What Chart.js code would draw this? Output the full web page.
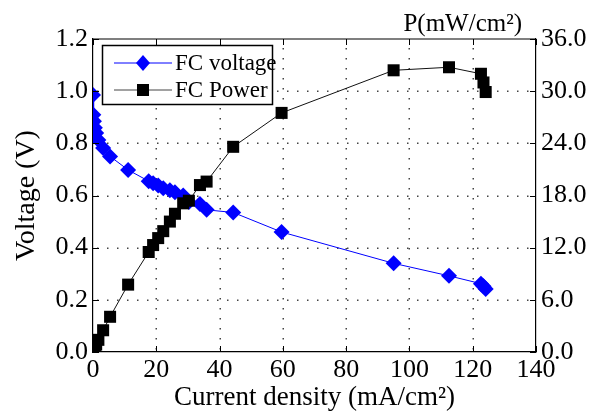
<!DOCTYPE html>
<html><head><meta charset="utf-8">
<script src="https://cdn.jsdelivr.net/npm/chart.js@4.4.1/dist/chart.umd.min.js"></script>
<style>html,body{margin:0;padding:0;background:#fff}#wrap{width:601px;height:417px}</style>
</head><body><div id="wrap"><canvas id="c" width="601" height="417"></canvas></div>
<script>
// ---- data ----
const current = [0, 0.1, 0.3, 0.6, 1.0, 1.7, 3.2, 5.4, 11.1, 17.6, 19.0, 20.6, 22.2, 24.3, 25.9, 28.5, 30.3, 33.8, 35.9, 44.3, 59.6, 95.0, 112.5, 122.6, 123.4, 124.1];
const voltage = [0.985, 0.91, 0.885, 0.86, 0.84, 0.813, 0.782, 0.75, 0.698, 0.655, 0.647, 0.638, 0.628, 0.62, 0.612, 0.60, 0.575, 0.567, 0.545, 0.535, 0.46, 0.34, 0.292, 0.262, 0.252, 0.242];
const power = [0, 0.1, 0.3, 0.5, 0.85, 1.4, 2.5, 4.05, 7.75, 11.5, 12.3, 13.1, 13.9, 15.0, 15.9, 17.1, 17.4, 19.2, 19.6, 23.6, 27.5, 32.4, 32.75, 32.0, 31.0, 29.9];
const xTicks = [0, 20, 40, 60, 80, 100, 120, 140];
const vTicks = [0, 0.2, 0.4, 0.6, 0.8, 1.0, 1.2];
const pTicks = [0, 6, 12, 18, 24, 30, 36];
const seriesNames = ['FC voltage', 'FC Power'];
const xTitle = 'Current density (mA/cm\u00B2)';
const yTitle = 'Voltage (V)';
const y2Title = 'P(mW/cm\u00B2)';

const FONT = '"Liberation Serif", "DejaVu Serif", serif';
const BLUE = '#0000ff';
const DARK = '#111';

const vData = current.map((x, i) => ({x: x, y: voltage[i]}));
const pData = current.map((x, i) => ({x: x, y: power[i]}));

function setTicks(arr) { return s => { s.ticks = arr.map(v => ({value: v})); }; }

const gridPlugin = {
  id: 'dotgrid',
  beforeDatasetsDraw(chart) {
    const ctx = chart.ctx, a = chart.chartArea;
    const xs = chart.scales.x, ys = chart.scales.y;
    ctx.save();
    ctx.fillStyle = '#444';
    // dotted grid drawn as small squares every 10px
    xTicks.slice(1, -1).forEach(v => {
      const px = Math.round(xs.getPixelForValue(v));
      for (let y = a.bottom - 4; y > a.top; y -= 10) ctx.fillRect(px - 0.5, Math.round(y), 1.5, 1.5);
    });
    vTicks.slice(1, -1).forEach(v => {
      const py = Math.round(ys.getPixelForValue(v));
      for (let x = a.left + 4; x < a.right; x += 10) ctx.fillRect(Math.round(x), py - 0.5, 1.5, 1.5);
    });
    ctx.restore();
  }
};

const framePlugin = {
  id: 'frame',
  afterDraw(chart) {
    const ctx = chart.ctx, a = chart.chartArea;
    const xs = chart.scales.x, ys = chart.scales.y;
    ctx.save();
    ctx.strokeStyle = '#000';
    ctx.lineWidth = 1.2;
    ctx.beginPath(); ctx.moveTo(a.left, a.top); ctx.lineTo(a.right, a.top); ctx.stroke();
    ctx.lineWidth = 1;
    ctx.beginPath();
    xTicks.forEach(v => {
      const px = Math.round(xs.getPixelForValue(v)) + 0.5;
      ctx.moveTo(px, a.bottom); ctx.lineTo(px, a.bottom - 6);
      ctx.moveTo(px, a.top); ctx.lineTo(px, a.top + 6);
    });
    vTicks.forEach(v => {
      const py = Math.round(ys.getPixelForValue(v)) + 0.5;
      ctx.moveTo(a.left, py); ctx.lineTo(a.left + 6, py);
      ctx.moveTo(a.right, py); ctx.lineTo(a.right - 6, py);
    });
    ctx.stroke();
    // right axis title
    ctx.fillStyle = '#000';
    ctx.font = '25px ' + FONT;
    ctx.textAlign = 'right';
    ctx.textBaseline = 'alphabetic';
    ctx.fillText(y2Title, 522, 31);
    // legend
    const lx = 102.5, ly = 45.5, lw = 170, lh = 59;
    ctx.fillStyle = '#fff';
    ctx.fillRect(lx, ly, lw, lh);
    ctx.lineWidth = 1.5;
    ctx.strokeStyle = '#000';
    ctx.strokeRect(lx, ly, lw, lh);
    const rows = [63, 90];
    ctx.lineWidth = 1;
    ctx.strokeStyle = BLUE;
    ctx.beginPath(); ctx.moveTo(114, rows[0]); ctx.lineTo(172, rows[0]); ctx.stroke();
    ctx.fillStyle = BLUE;
    ctx.beginPath();
    ctx.moveTo(143, rows[0] - 8); ctx.lineTo(150, rows[0]); ctx.lineTo(143, rows[0] + 8); ctx.lineTo(136, rows[0]);
    ctx.closePath(); ctx.fill();
    ctx.strokeStyle = '#444';
    ctx.beginPath(); ctx.moveTo(114, rows[1]); ctx.lineTo(172, rows[1]); ctx.stroke();
    ctx.fillStyle = '#000';
    ctx.fillRect(137, rows[1] - 6, 12, 12);
    ctx.font = '23px ' + FONT;
    ctx.textAlign = 'left';
    ctx.textBaseline = 'middle';
    ctx.fillText(seriesNames[0], 175, rows[0] + 1);
    ctx.fillText(seriesNames[1], 175, rows[1] + 1);
    ctx.restore();
  }
};

new Chart(document.getElementById('c'), {
  type: 'line',
  data: {
    datasets: [
      {label: seriesNames[0], data: vData, yAxisID: 'y', order: 1,
       borderColor: BLUE, backgroundColor: BLUE, borderWidth: 1,
       pointStyle: 'rectRot', pointRadius: 8, pointHoverRadius: 8,
       pointBackgroundColor: BLUE, pointBorderColor: BLUE, pointBorderWidth: 0, tension: 0},
      {label: seriesNames[1], data: pData, yAxisID: 'y2', order: 0,
       borderColor: DARK, backgroundColor: '#000', borderWidth: 1,
       pointStyle: 'rect', pointRadius: 8.5, pointHoverRadius: 8.5,
       pointBackgroundColor: '#000', pointBorderColor: '#000', pointBorderWidth: 0, tension: 0}
    ]
  },
  options: {
    responsive: false,
    devicePixelRatio: 1,
    animation: false,
    layout: {padding: {top: 39, left: 0, right: 0, bottom: 0}},
    plugins: {legend: {display: false}, title: {display: false}, tooltip: {enabled: false}},
    scales: {
      x: {
        type: 'linear', position: 'bottom', min: 0, max: 140,
        afterBuildTicks: setTicks(xTicks),
        afterFit: s => { s.height = 65; },
        ticks: {font: {family: FONT, size: 26}, color: '#000', padding: 3, maxRotation: 0, autoSkip: false},
        grid: {display: false, drawTicks: false},
        border: {display: true, color: '#000', width: 1.2},
        title: {display: true, text: xTitle, font: {family: FONT, size: 27}, color: '#000', padding: {top: 0, bottom: 3}}
      },
      y: {
        type: 'linear', position: 'left', min: 0, max: 1.2,
        afterBuildTicks: setTicks(vTicks),
        afterFit: s => { s.width = 93; },
        ticks: {font: {family: FONT, size: 26}, color: '#000', padding: 5, callback: v => Number(v).toFixed(1)},
        grid: {display: false, drawTicks: false},
        border: {display: true, color: '#000', width: 1.2},
        title: {display: true, text: yTitle, font: {family: FONT, size: 28}, color: '#000', padding: {top: 10, bottom: 0}}
      },
      y2: {
        type: 'linear', position: 'right', min: 0, max: 36,
        afterBuildTicks: setTicks(pTicks),
        afterFit: s => { s.width = 65; },
        ticks: {font: {family: FONT, size: 26}, color: '#000', padding: 5, callback: v => Number(v).toFixed(1)},
        grid: {display: false, drawTicks: false},
        border: {display: true, color: '#000', width: 1.2}
      }
    }
  },
  plugins: [gridPlugin, framePlugin]
});
</script>
</body></html>
